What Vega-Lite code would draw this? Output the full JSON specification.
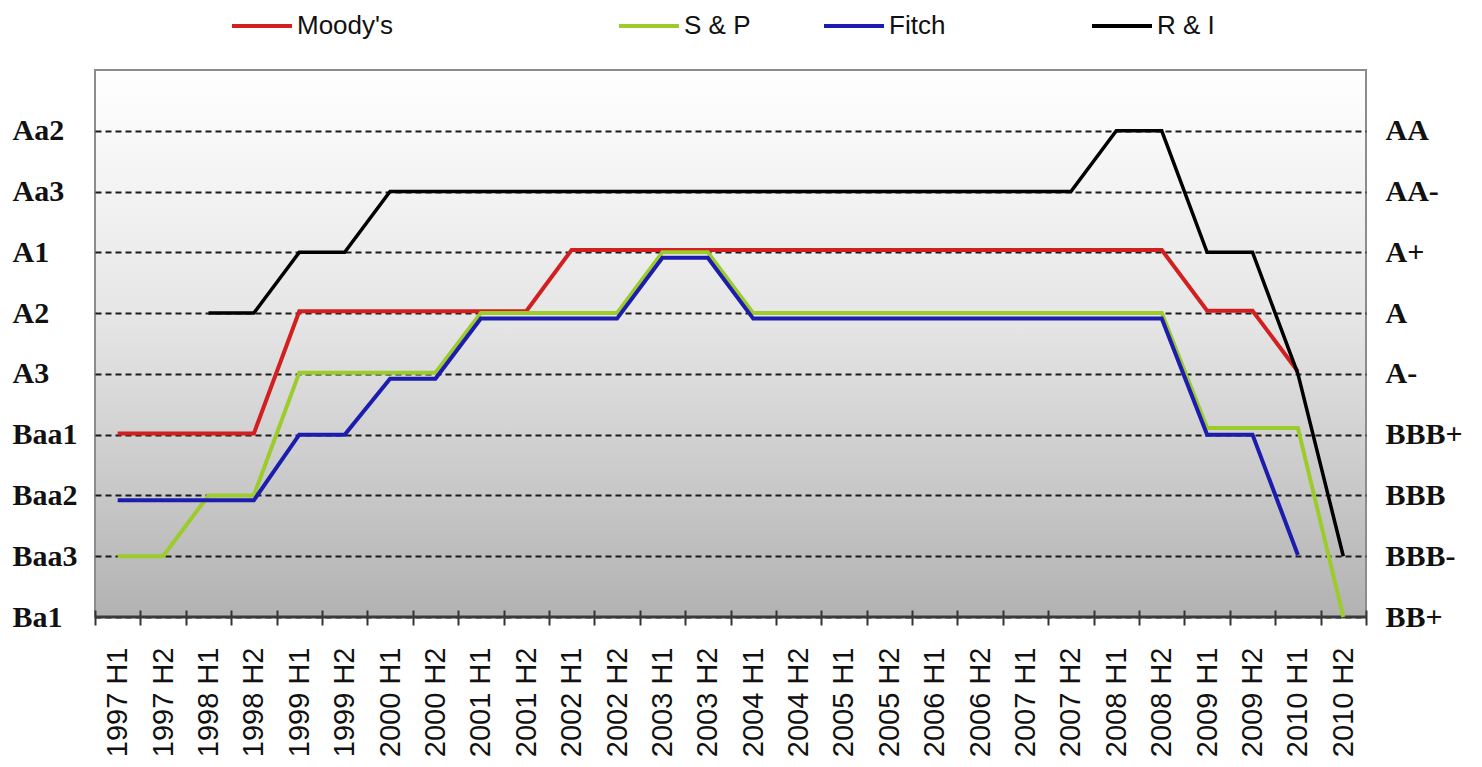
{
  "$schema": "https://vega.github.io/schema/vega-lite/v6.json",
  "width": 1271,
  "height": 547,
  "autosize": {"type": "none"},
  "padding": {"left": 95, "top": 70, "right": 116, "bottom": 150},
  "background": "white",
  "config": {
    "view": {
      "stroke": "#8c8c8c",
      "strokeWidth": 2,
      "fill": {
        "gradient": "linear",
        "x1": 0, "y1": 0, "x2": 0, "y2": 1,
        "stops": [
          {"offset": 0, "color": "#ffffff"},
          {"offset": 0.45, "color": "#e6e6e6"},
          {"offset": 1, "color": "#b2b2b2"}
        ]
      }
    },
    "axisX": {
      "title": null,
      "labelFont": "Liberation Sans",
      "labelFontSize": 29,
      "labelColor": "#111",
      "labelAngle": -90,
      "labelAlign": "right",
      "labelBaseline": "middle",
      "labelPadding": 22,
      "tickBand": "extent",
      "tickSize": 15,
      "tickWidth": 2,
      "tickColor": "#333",
      "offset": -7,
      "domain": false,
      "grid": false
    },
    "axisY": {
      "title": null,
      "labelFont": "Liberation Serif",
      "labelFontWeight": "bold",
      "labelFontSize": 30,
      "labelColor": "#111",
      "labelAlign": "left",
      "labelBaseline": "middle",
      "ticks": false,
      "domain": false
    }
  },
  "data": {
    "values": [
      {"period": "1997 H1", "agency": "Moody's", "rating": 3.02},
      {"period": "1997 H2", "agency": "Moody's", "rating": 3.02},
      {"period": "1998 H1", "agency": "Moody's", "rating": 3.02},
      {"period": "1998 H2", "agency": "Moody's", "rating": 3.02},
      {"period": "1999 H1", "agency": "Moody's", "rating": 5.03},
      {"period": "1999 H2", "agency": "Moody's", "rating": 5.03},
      {"period": "2000 H1", "agency": "Moody's", "rating": 5.03},
      {"period": "2000 H2", "agency": "Moody's", "rating": 5.03},
      {"period": "2001 H1", "agency": "Moody's", "rating": 5.03},
      {"period": "2001 H2", "agency": "Moody's", "rating": 5.03},
      {"period": "2002 H1", "agency": "Moody's", "rating": 6.04},
      {"period": "2002 H2", "agency": "Moody's", "rating": 6.04},
      {"period": "2003 H1", "agency": "Moody's", "rating": 6.04},
      {"period": "2003 H2", "agency": "Moody's", "rating": 6.04},
      {"period": "2004 H1", "agency": "Moody's", "rating": 6.04},
      {"period": "2004 H2", "agency": "Moody's", "rating": 6.04},
      {"period": "2005 H1", "agency": "Moody's", "rating": 6.04},
      {"period": "2005 H2", "agency": "Moody's", "rating": 6.04},
      {"period": "2006 H1", "agency": "Moody's", "rating": 6.04},
      {"period": "2006 H2", "agency": "Moody's", "rating": 6.04},
      {"period": "2007 H1", "agency": "Moody's", "rating": 6.04},
      {"period": "2007 H2", "agency": "Moody's", "rating": 6.04},
      {"period": "2008 H1", "agency": "Moody's", "rating": 6.04},
      {"period": "2008 H2", "agency": "Moody's", "rating": 6.04},
      {"period": "2009 H1", "agency": "Moody's", "rating": 5.04},
      {"period": "2009 H2", "agency": "Moody's", "rating": 5.04},
      {"period": "2010 H1", "agency": "Moody's", "rating": 4.04},

      {"period": "1997 H1", "agency": "S & P", "rating": 1.0},
      {"period": "1997 H2", "agency": "S & P", "rating": 1.0},
      {"period": "1998 H1", "agency": "S & P", "rating": 2.0},
      {"period": "1998 H2", "agency": "S & P", "rating": 2.0},
      {"period": "1999 H1", "agency": "S & P", "rating": 4.02},
      {"period": "1999 H2", "agency": "S & P", "rating": 4.02},
      {"period": "2000 H1", "agency": "S & P", "rating": 4.02},
      {"period": "2000 H2", "agency": "S & P", "rating": 4.02},
      {"period": "2001 H1", "agency": "S & P", "rating": 5.0},
      {"period": "2001 H2", "agency": "S & P", "rating": 5.0},
      {"period": "2002 H1", "agency": "S & P", "rating": 5.0},
      {"period": "2002 H2", "agency": "S & P", "rating": 5.0},
      {"period": "2003 H1", "agency": "S & P", "rating": 6.0},
      {"period": "2003 H2", "agency": "S & P", "rating": 6.0},
      {"period": "2004 H1", "agency": "S & P", "rating": 5.0},
      {"period": "2004 H2", "agency": "S & P", "rating": 5.0},
      {"period": "2005 H1", "agency": "S & P", "rating": 5.0},
      {"period": "2005 H2", "agency": "S & P", "rating": 5.0},
      {"period": "2006 H1", "agency": "S & P", "rating": 5.0},
      {"period": "2006 H2", "agency": "S & P", "rating": 5.0},
      {"period": "2007 H1", "agency": "S & P", "rating": 5.0},
      {"period": "2007 H2", "agency": "S & P", "rating": 5.0},
      {"period": "2008 H1", "agency": "S & P", "rating": 5.0},
      {"period": "2008 H2", "agency": "S & P", "rating": 5.0},
      {"period": "2009 H1", "agency": "S & P", "rating": 3.11},
      {"period": "2009 H2", "agency": "S & P", "rating": 3.11},
      {"period": "2010 H1", "agency": "S & P", "rating": 3.11},
      {"period": "2010 H2", "agency": "S & P", "rating": 0.0},

      {"period": "1997 H1", "agency": "Fitch", "rating": 1.92},
      {"period": "1997 H2", "agency": "Fitch", "rating": 1.92},
      {"period": "1998 H1", "agency": "Fitch", "rating": 1.92},
      {"period": "1998 H2", "agency": "Fitch", "rating": 1.92},
      {"period": "1999 H1", "agency": "Fitch", "rating": 3.0},
      {"period": "1999 H2", "agency": "Fitch", "rating": 3.0},
      {"period": "2000 H1", "agency": "Fitch", "rating": 3.92},
      {"period": "2000 H2", "agency": "Fitch", "rating": 3.92},
      {"period": "2001 H1", "agency": "Fitch", "rating": 4.91},
      {"period": "2001 H2", "agency": "Fitch", "rating": 4.91},
      {"period": "2002 H1", "agency": "Fitch", "rating": 4.91},
      {"period": "2002 H2", "agency": "Fitch", "rating": 4.91},
      {"period": "2003 H1", "agency": "Fitch", "rating": 5.91},
      {"period": "2003 H2", "agency": "Fitch", "rating": 5.91},
      {"period": "2004 H1", "agency": "Fitch", "rating": 4.91},
      {"period": "2004 H2", "agency": "Fitch", "rating": 4.91},
      {"period": "2005 H1", "agency": "Fitch", "rating": 4.91},
      {"period": "2005 H2", "agency": "Fitch", "rating": 4.91},
      {"period": "2006 H1", "agency": "Fitch", "rating": 4.91},
      {"period": "2006 H2", "agency": "Fitch", "rating": 4.91},
      {"period": "2007 H1", "agency": "Fitch", "rating": 4.91},
      {"period": "2007 H2", "agency": "Fitch", "rating": 4.91},
      {"period": "2008 H1", "agency": "Fitch", "rating": 4.91},
      {"period": "2008 H2", "agency": "Fitch", "rating": 4.91},
      {"period": "2009 H1", "agency": "Fitch", "rating": 3.0},
      {"period": "2009 H2", "agency": "Fitch", "rating": 3.0},
      {"period": "2010 H1", "agency": "Fitch", "rating": 1.02},

      {"period": "1998 H1", "agency": "R & I", "rating": 5.0},
      {"period": "1998 H2", "agency": "R & I", "rating": 5.0},
      {"period": "1999 H1", "agency": "R & I", "rating": 6.0},
      {"period": "1999 H2", "agency": "R & I", "rating": 6.0},
      {"period": "2000 H1", "agency": "R & I", "rating": 7.0},
      {"period": "2000 H2", "agency": "R & I", "rating": 7.0},
      {"period": "2001 H1", "agency": "R & I", "rating": 7.0},
      {"period": "2001 H2", "agency": "R & I", "rating": 7.0},
      {"period": "2002 H1", "agency": "R & I", "rating": 7.0},
      {"period": "2002 H2", "agency": "R & I", "rating": 7.0},
      {"period": "2003 H1", "agency": "R & I", "rating": 7.0},
      {"period": "2003 H2", "agency": "R & I", "rating": 7.0},
      {"period": "2004 H1", "agency": "R & I", "rating": 7.0},
      {"period": "2004 H2", "agency": "R & I", "rating": 7.0},
      {"period": "2005 H1", "agency": "R & I", "rating": 7.0},
      {"period": "2005 H2", "agency": "R & I", "rating": 7.0},
      {"period": "2006 H1", "agency": "R & I", "rating": 7.0},
      {"period": "2006 H2", "agency": "R & I", "rating": 7.0},
      {"period": "2007 H1", "agency": "R & I", "rating": 7.0},
      {"period": "2007 H2", "agency": "R & I", "rating": 7.0},
      {"period": "2008 H1", "agency": "R & I", "rating": 8.0},
      {"period": "2008 H2", "agency": "R & I", "rating": 8.0},
      {"period": "2009 H1", "agency": "R & I", "rating": 6.0},
      {"period": "2009 H2", "agency": "R & I", "rating": 6.0},
      {"period": "2010 H1", "agency": "R & I", "rating": 4.0},
      {"period": "2010 H2", "agency": "R & I", "rating": 1.0}
    ]
  },
  "resolve": {"axis": {"y": "independent"}, "scale": {"color": "independent"}},
  "layer": [
    {
      "data": {"values": [{}]},
      "mark": {"type": "rule", "color": "#3a3a3a", "strokeWidth": 3},
      "encoding": {
        "y": {"datum": 0, "type": "quantitative", "scale": {"domain": [0, 9], "nice": false, "zero": false}, "axis": {"values": [0, 1, 2, 3, 4, 5, 6, 7, 8], "grid": true, "gridDash": [6, 4], "gridColor": "#1a1a1a", "gridWidth": 2, "gridOpacity": 1, "labelPadding": 83, "labelExpr": "['Ba1','Baa3','Baa2','Baa1','A3','A2','A1','Aa3','Aa2'][datum.value]"}}
      }
    },
    {
      "transform": [{"filter": "datum.agency === 'Moody\\'s'"}],
      "mark": {"type": "line", "strokeWidth": 4},
      "encoding": {
        "x": {"field": "period", "type": "ordinal", "scale": {"type": "band", "paddingInner": 0, "paddingOuter": 0}, "axis": {"title": null}},
        "y": {"field": "rating", "type": "quantitative", "scale": {"domain": [0, 9], "nice": false, "zero": false}, "axis": {"orient": "right", "values": [0, 1, 2, 3, 4, 5, 6, 7, 8], "grid": false, "labelPadding": 19, "labelExpr": "['BB+','BBB-','BBB','BBB+','A-','A','A+','AA-','AA'][datum.value]"}},
        "color": {"field": "agency", "type": "nominal", "scale": {"domain": ["Moody's"], "range": ["#d21f1f"]},
          "legend": {"orient": "none", "legendX": 135, "legendY": -76, "title": null, "padding": 0, "symbolType": "stroke", "symbolSize": 3600, "symbolStrokeWidth": 4, "labelFont": "Liberation Sans", "labelFontSize": 26, "labelColor": "#111", "labelOffset": 3}}
      }
    },
    {
      "transform": [{"filter": "datum.agency === 'S & P'"}],
      "mark": {"type": "line", "strokeWidth": 4},
      "encoding": {
        "x": {"field": "period", "type": "ordinal", "scale": {"type": "band", "paddingInner": 0, "paddingOuter": 0}, "axis": {"title": null}},
        "y": {"field": "rating", "type": "quantitative", "scale": {"domain": [0, 9], "nice": false, "zero": false}, "axis": null},
        "color": {"field": "agency", "type": "nominal", "scale": {"domain": ["S & P"], "range": ["#9ccc2c"]},
          "legend": {"orient": "none", "legendX": 522, "legendY": -76, "title": null, "padding": 0, "symbolType": "stroke", "symbolSize": 3600, "symbolStrokeWidth": 4, "labelFont": "Liberation Sans", "labelFontSize": 26, "labelColor": "#111", "labelOffset": 3}}
      }
    },
    {
      "transform": [{"filter": "datum.agency === 'Fitch'"}],
      "mark": {"type": "line", "strokeWidth": 4},
      "encoding": {
        "x": {"field": "period", "type": "ordinal", "scale": {"type": "band", "paddingInner": 0, "paddingOuter": 0}, "axis": {"title": null}},
        "y": {"field": "rating", "type": "quantitative", "scale": {"domain": [0, 9], "nice": false, "zero": false}, "axis": null},
        "color": {"field": "agency", "type": "nominal", "scale": {"domain": ["Fitch"], "range": ["#1c1cae"]},
          "legend": {"orient": "none", "legendX": 727, "legendY": -76, "title": null, "padding": 0, "symbolType": "stroke", "symbolSize": 3600, "symbolStrokeWidth": 4, "labelFont": "Liberation Sans", "labelFontSize": 26, "labelColor": "#111", "labelOffset": 3}}
      }
    },
    {
      "transform": [{"filter": "datum.agency === 'R & I'"}],
      "mark": {"type": "line", "strokeWidth": 3.5},
      "encoding": {
        "x": {"field": "period", "type": "ordinal", "scale": {"type": "band", "paddingInner": 0, "paddingOuter": 0}, "axis": {"title": null}},
        "y": {"field": "rating", "type": "quantitative", "scale": {"domain": [0, 9], "nice": false, "zero": false}, "axis": null},
        "color": {"field": "agency", "type": "nominal", "scale": {"domain": ["R & I"], "range": ["#000000"]},
          "legend": {"orient": "none", "legendX": 995, "legendY": -76, "title": null, "padding": 0, "symbolType": "stroke", "symbolSize": 3600, "symbolStrokeWidth": 4, "labelFont": "Liberation Sans", "labelFontSize": 26, "labelColor": "#111", "labelOffset": 3}}
      }
    }
  ]
}
